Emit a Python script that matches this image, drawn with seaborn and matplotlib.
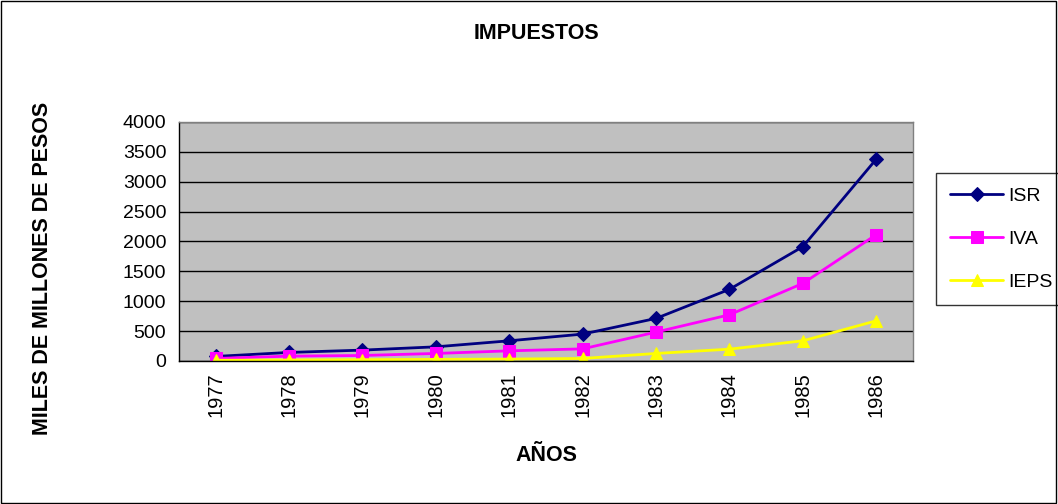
import numpy as np
import pandas as pd
import matplotlib
matplotlib.use('Agg')
import matplotlib.pyplot as plt
import seaborn as sns

# Datos
anios = ['1977', '1978', '1979', '1980', '1981', '1982', '1983', '1984', '1985', '1986']
isr = [74, 141, 180, 235, 336, 448, 711, 1198, 1913, 3379]
iva = [40, 79, 90, 124, 168, 201, 482, 772, 1298, 2114]
ieps = [10, 15, 20, 25, 30, 40, 124, 196, 336, 671]

series = {'ISR': isr, 'IVA': iva, 'IEPS': ieps}
colores = {'ISR': '#000080', 'IVA': '#ff00ff', 'IEPS': '#ffff00'}
marcadores = {'ISR': 'D', 'IVA': 's', 'IEPS': '^'}
tamanos = {'ISR': 7, 'IVA': 9, 'IEPS': 9}

rows = []
for nombre, vals in series.items():
    for i, v in enumerate(vals):
        rows.append({'pos': i, 'valor': v, 'serie': nombre})
df = pd.DataFrame(rows)

sns.set_style('white')
plt.rcParams['font.family'] = ['Liberation Sans', 'DejaVu Sans']
plt.rcParams['text.color'] = 'black'
plt.rcParams['axes.labelcolor'] = 'black'
plt.rcParams['xtick.color'] = 'black'
plt.rcParams['ytick.color'] = 'black'

fig = plt.figure(figsize=(10.58, 5.04), dpi=100)
ax = fig.add_axes([0.169, 0.284, 0.694, 0.474])
ax.set_facecolor('#c0c0c0')

for nombre in series:
    sub = df[df['serie'] == nombre]
    sns.lineplot(data=sub, x='pos', y='valor', ax=ax, color=colores[nombre],
                 marker=marcadores[nombre], markersize=tamanos[nombre],
                 markeredgecolor=colores[nombre], linewidth=2, label=nombre)

ax.set_xlim(-0.5, len(anios) - 0.5)
ax.set_ylim(0, 4000)
ax.set_yticks(np.arange(0, 4001, 500))
ax.yaxis.grid(True, color='black', linewidth=1)
ax.set_axisbelow(True)

ax.set_xticks(np.arange(len(anios)))
ax.set_xticklabels(anios, rotation=90, fontsize=14.5)
ax.set_xticks(np.arange(-0.5, len(anios), 1), minor=True)
ax.tick_params(axis='x', which='major', length=0, pad=8)
ax.tick_params(axis='x', which='minor', length=5, direction='out', color='black')
ax.tick_params(axis='y', length=5, direction='out', color='black', labelsize=14, pad=4)
for lado in ['top', 'right']:
    ax.spines[lado].set_color('#808080')
for lado in ['left', 'bottom']:
    ax.spines[lado].set_color('black')
for s in ax.spines.values():
    s.set_linewidth(1)

ax.set_xlabel('AÑOS', fontsize=15.5, fontweight='bold', labelpad=20)
ax.set_ylabel('MILES DE MILLONES DE PESOS', fontsize=15.5, fontweight='bold')
ax.yaxis.set_label_coords(-0.172, 0.385)
fig.text(0.5066, 0.933, 'IMPUESTOS', ha='center', va='center', fontsize=15.5, fontweight='bold')

leg = ax.legend(loc='upper left', bbox_to_anchor=(1.031, 0.787), borderaxespad=0,
                frameon=True, fancybox=False, edgecolor='black', fontsize=14,
                handlelength=2.7, labelspacing=1.3, borderpad=0.75, handletextpad=0.3)
leg.get_frame().set_linewidth(1)

# borde exterior del grafico
fig.patches.append(plt.Rectangle((0.001, 0.002), 0.997, 0.996, transform=fig.transFigure,
                                 fill=False, edgecolor='black', linewidth=1))

fig.savefig('out.png', dpi=100)
